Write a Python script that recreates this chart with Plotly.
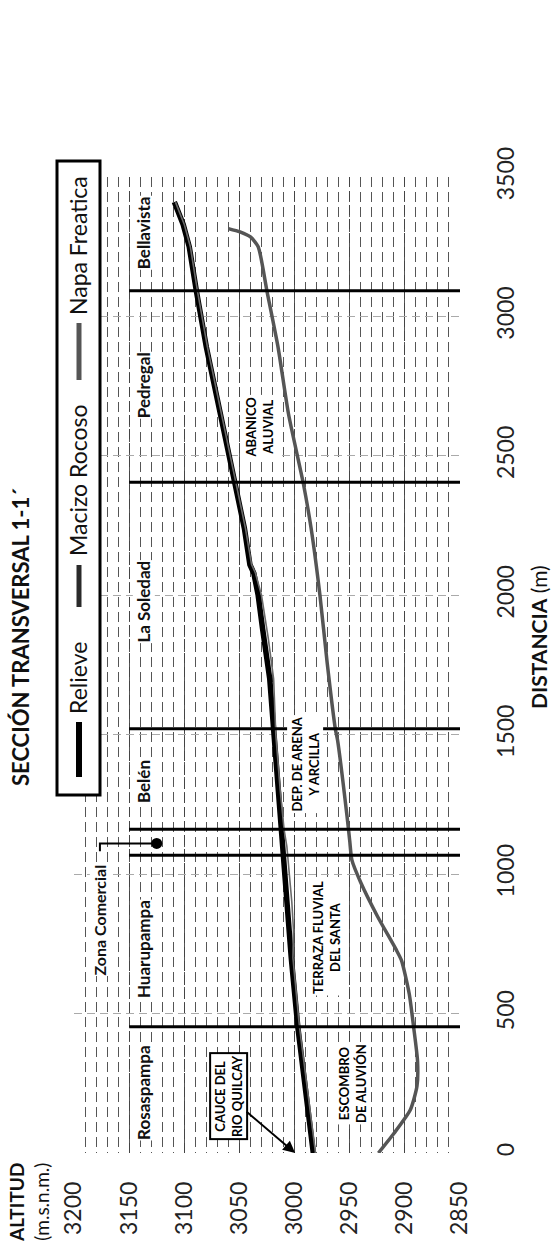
import plotly.graph_objects as go

# ---- data -------------------------------------------------------------
# distance along section (m) and altitude (m.s.n.m.)
relieve_dist = [0, 200, 450, 700, 900, 1070, 1160, 1300, 1500, 1700, 1880, 2000,
                2080, 2110, 2240, 2400, 2650, 2890, 3090, 3250, 3330, 3410]
relieve_alt = [2983, 2989, 2997, 3003, 3007, 3010, 3011.5, 3014, 3018, 3022.5, 3029,
               3033, 3037, 3040.5, 3045.5, 3054, 3067.5, 3080, 3089, 3095.5, 3101, 3109]

macizo_dist = [0, 450, 700, 800, 900, 1000, 1100, 1160, 1300, 1500, 1700, 1850,
               2000, 2080, 2110, 2240, 2400, 2650, 2890, 3090, 3250, 3330, 3410]
macizo_alt = [2981, 2995.5, 3001.5, 3001, 3002.5, 3004.5, 3007, 3009.5, 3013, 3017,
              3019, 3024, 3030, 3035.5, 3039, 3044.5, 3053, 3066.5, 3079, 3088,
              3094.5, 3100, 3108]

napa_dist = [0, 70, 155, 240, 330, 450, 570, 690, 730, 850, 970, 1050, 1120, 1210,
             1480, 1520, 1760, 2000, 2240, 2400, 2650, 2890, 3090, 3250, 3285, 3303, 3315]
napa_alt = [2924, 2910, 2895, 2889, 2888.5, 2892, 2896, 2903, 2908, 2925, 2940, 2948,
            2950, 2952.5, 2961, 2963, 2970.5, 2977, 2985, 2992, 3005.5, 3015, 3025,
            3033, 3040, 3049.5, 3060]

# sector limits (m)
limites = [453, 1068, 1161, 1521, 2405, 3092]

# sector names
sectores = ["Rosaspampa", "Huarupampa", "Belén", "La Soledad", "Pedregal", "Bellavista"]
sectores_dist = [217, 733, 1332, 1979, 2755, 3300]
sectores_alt = 3137

# geological units
unidades = ["ESCOMBRO<br>DE ALUVIÓN", "TERRAZA FLUVIAL<br>DEL SANTA",
            "DEP. DE ARENA<br>Y ARCILLA", "ABANICO<br>ALUVIAL"]
unidades_dist = [251, 773, 1395, 2603]
unidades_alt = [2948, 2971, 2990, 3032]

alt_ticks = [3200, 3150, 3100, 3050, 3000, 2950, 2900, 2850]
dist_ticks = [0, 500, 1000, 1500, 2000, 2500, 3000, 3500]

FONT = "Lato"

fig = go.Figure()

# profile lines (section drawn with altitude across, distance upward)
fig.add_trace(go.Scatter(x=napa_alt, y=napa_dist, mode="lines",
                         line=dict(color="#555555", width=3.5, shape="spline", smoothing=0.6),
                         name="Napa Freatica", showlegend=False))
fig.add_trace(go.Scatter(x=relieve_alt, y=relieve_dist, mode="lines",
                         line=dict(color="#000000", width=5.5),
                         name="Relieve", showlegend=False))
fig.add_trace(go.Scatter(x=macizo_alt, y=macizo_dist, mode="lines",
                         line=dict(color="#6a6a6a", width=1.6),
                         name="Macizo Rocoso", showlegend=False))

# sector limits
for d in limites:
    fig.add_shape(type="line", xref="x", yref="y", x0=3150, x1=2850, y0=d, y1=d,
                  line=dict(color="black", width=3), layer="above")

# sector names
for name, d in zip(sectores, sectores_dist):
    fig.add_annotation(x=sectores_alt, y=d, xref="x", yref="y", text=f"<b>{name}</b>",
                       showarrow=False, textangle=-90, xanchor="center", yanchor="middle",
                       bgcolor="white", borderpad=0,
                       font=dict(family=FONT, size=17, color="#111"))

# Zona Comercial callout
zona_alt, zona_dist = 3176.5, 837
dot_alt, dot_dist = 3125, 1110
fig.add_trace(go.Scatter(x=[zona_alt, zona_alt, dot_alt], y=[1082, dot_dist, dot_dist],
                         mode="lines", line=dict(color="black", width=2), showlegend=False))
fig.add_trace(go.Scatter(x=[dot_alt], y=[dot_dist], mode="markers",
                         marker=dict(color="black", size=11), showlegend=False))
fig.add_annotation(x=zona_alt, y=zona_dist, xref="x", yref="y", text="<b>Zona Comercial</b>",
                   showarrow=False, textangle=-90, xanchor="center", yanchor="middle",
                   bgcolor="white", borderpad=0,
                   font=dict(family=FONT, size=16, color="#111"))

# geological units
for txt, d, a in zip(unidades, unidades_dist, unidades_alt):
    fig.add_annotation(x=a, y=d, xref="x", yref="y", text=f"<b>{txt}</b>", showarrow=False,
                       textangle=-90, xanchor="center", yanchor="middle",
                       bgcolor="white", borderpad=1,
                       font=dict(family=FONT, size=13, color="#000"))

# river channel callout
fig.add_annotation(x=2999.5, y=0, xref="x", yref="y", text="<b>CAUCE DEL<br>RIO QUILCAY</b>",
                   showarrow=True, ax=-67, ay=-57, arrowhead=2, arrowsize=1.2,
                   arrowwidth=2, arrowcolor="black", textangle=-90,
                   bordercolor="black", borderwidth=2, borderpad=1, bgcolor="white",
                   font=dict(family=FONT, size=13, color="#000"))

# legend box (built by hand so it can be turned with the chart)
L, R_, PW, PH, T_ = 74, 93, 386, 976, 177
def px(x):
    return (x - L) / PW
def py(y):
    return (T_ + PH - y) / PH

fig.add_shape(type="rect", xref="paper", yref="paper", x0=px(57), x1=px(100),
              y0=py(795), y1=py(161), line=dict(color="black", width=3),
              fillcolor="white", layer="above")
legend_items = [("Relieve", 722, 777, 678, "#000000", 6),
                ("Macizo Rocoso", 565, 607, 480, "#2a2a2a", 5),
                ("Napa Freatica", 323, 380, 246, "#555555", 5)]
for name, y_top, y_bot, y_txt, col, w in legend_items:
    fig.add_shape(type="line", xref="paper", yref="paper", x0=px(79), x1=px(79),
                  y0=py(y_bot), y1=py(y_top), line=dict(color=col, width=w), layer="above")
    fig.add_annotation(xref="paper", yref="paper", x=px(78), y=py(y_txt), text=name,
                       showarrow=False, textangle=-90, xanchor="center", yanchor="middle",
                       font=dict(family=FONT, size=23, color="#111"))

# titles
fig.add_annotation(xref="paper", yref="paper", x=px(20), y=py(637),
                   text="<b>SECCIÓN TRANSVERSAL 1-1´</b>", showarrow=False, textangle=-90,
                   xanchor="center", yanchor="middle",
                   font=dict(family=FONT, size=22, color="#111"))
fig.add_annotation(xref="paper", yref="paper", x=px(538), y=py(637),
                   text="<b>DISTANCIA</b> (m)", showarrow=False, textangle=-90,
                   xanchor="center", yanchor="middle",
                   font=dict(family=FONT, size=21, color="#111"))
fig.add_annotation(xref="paper", yref="paper", x=px(29), y=py(1203),
                   text="<b>ALTITUD</b><br>(m.s.n.m.)", showarrow=False, textangle=-90,
                   xanchor="center", yanchor="middle",
                   align="right", font=dict(family=FONT, size=19, color="#111"))

fig.update_layout(
    width=553, height=1250,
    margin=dict(l=L, r=R_, t=T_, b=1250 - T_ - PH),
    paper_bgcolor="white", plot_bgcolor="white",
    font=dict(family=FONT, color="#222"),
    showlegend=False,
    xaxis=dict(range=[3200, 2850], tickvals=alt_ticks, ticktext=[str(v) for v in alt_ticks],
               tickangle=-90, tickfont=dict(size=23, color="#222"),
               ticklabelstandoff=23, showline=False, zeroline=False,
               showgrid=True, gridcolor="#444", gridwidth=1, griddash="10px,4px",
               minor=dict(dtick=10, tick0=2850, showgrid=True, gridcolor="#555",
                          gridwidth=1, griddash="10px,5px")),
    yaxis=dict(range=[0, 3500], side="right", tickvals=dist_ticks,
               tickangle=-90, tickfont=dict(size=23, color="#222"),
               ticklabelstandoff=30, showline=False, zeroline=False,
               showgrid=True, gridcolor="#aaa", gridwidth=1, griddash="8px,5px"),
)

fig.write_html("out.html")
